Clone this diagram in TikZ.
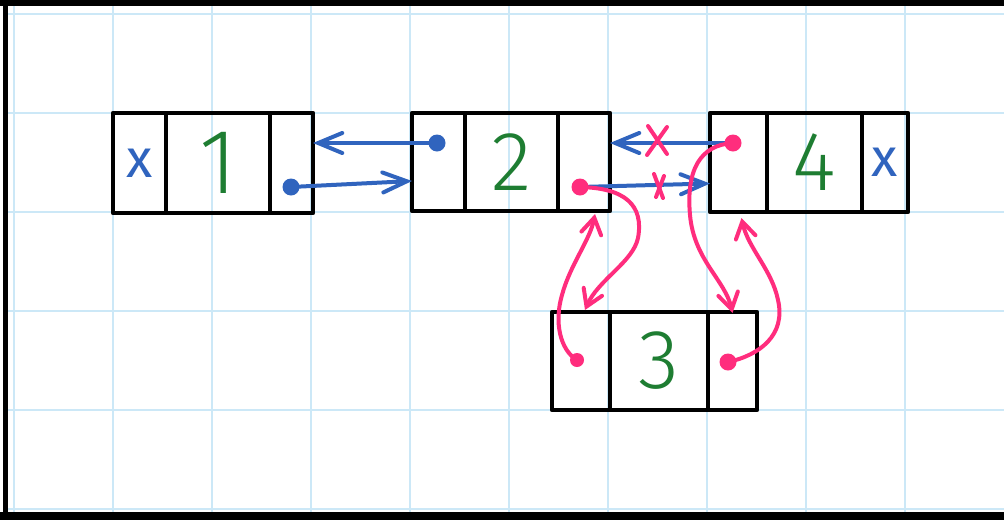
\documentclass[tikz,border=0pt]{standalone}
\usepackage{fontspec}
\newfontfamily\hand{Fira Sans Light}
\newfontfamily\handr{Fira Sans}
\usetikzlibrary{arrows.meta}
\definecolor{gridblue}{RGB}{204,232,247}
\definecolor{pblue}{RGB}{48,100,190}
\definecolor{pgreen}{RGB}{30,125,50}
\definecolor{ppink}{RGB}{255,45,125}
\begin{document}
\begin{tikzpicture}[x=1pt,y=-1pt,
  gridline/.style={draw=gridblue, line width=2pt},
  cell/.style={draw=black, line width=4.5pt, inner sep=0pt, outer sep=0pt, line join=round},
  xmark/.style={text=pblue, font=\handr\fontsize{54}{54}\selectfont},
  digit/.style={text=pgreen, font=\hand\fontsize{84}{84}\selectfont},
  bdot/.style={circle, fill=pblue, inner sep=0pt, minimum size=17pt},
  pdot/.style={circle, fill=ppink, inner sep=0pt, minimum size=17pt},
  barrow/.style={draw=pblue, line width=4pt, line cap=round, line join=round,
    -{Straight Barb[length=24pt,width=20pt,line cap=round]}},
  parrow/.style={draw=ppink, line width=4pt, line cap=round, line join=round,
    -{Straight Barb[length=16pt,width=20pt,line cap=round]}},
  cross/.style={draw=ppink, line width=4pt, line cap=round}
]
\useasboundingbox (0,0) rectangle (1004,520);
\fill[white] (0,0) rectangle (1004,520);
% grid
\foreach \x in {14,113,...,905} \draw[gridline] (\x,6) -- (\x,512);
\foreach \y in {14,113,...,509} \draw[gridline] (8,\y) -- (1004,\y);
% frame
\fill[black] (0,0) rectangle (1004,6);
\fill[black] (3,0) rectangle (8,520);
\fill[black] (0,512) rectangle (1004,520);

% box 1
\node[cell, minimum width=53pt, minimum height=100pt, xmark] (b1a) at (139.5,163) {x};
\node[cell, minimum width=104pt, minimum height=100pt, digit, font=\hand\fontsize{92}{92}\selectfont] (b1b) at (218,163) {1};
\node[cell, minimum width=43pt, minimum height=100pt] (b1c) at (291.5,163) {};
% box 2
\node[cell, minimum width=53pt, minimum height=98pt] (b2a) at (438.5,162) {};
\node[cell, minimum width=93pt, minimum height=98pt, digit] (b2b) at (511.5,162) {2};
\node[cell, minimum width=52pt, minimum height=98pt] (b2c) at (584,162) {};
% box 4
\node[cell, minimum width=57pt, minimum height=99pt] (b4a) at (738.5,162.5) {};
\node[cell, minimum width=95pt, minimum height=99pt, digit] (b4b) at (814.5,162.5) {4};
\node[cell, minimum width=46pt, minimum height=99pt, xmark] (b4c) at (885,162.5) {x};
% box 3
\node[cell, minimum width=58pt, minimum height=98pt] (b3a) at (581,361) {};
\node[cell, minimum width=98pt, minimum height=98pt, digit] (b3b) at (659,361) {3};
\node[cell, minimum width=49pt, minimum height=98pt] (b3c) at (732.5,361) {};

% dot positions
\coordinate (c1) at (291,187);
\coordinate (c2a) at (437,143);
\coordinate (c2c) at (580,187);
\coordinate (c4a) at (733,143);
\coordinate (c3a) at (577,360);
\coordinate (c3c) at (728,362);

% blue arrows
\draw[barrow] (c2a) -- ([yshift=20pt]b1c.east);
\draw[barrow] (c1) -- ([yshift=-19pt]b2a.west);
\draw[barrow] (c4a) -- ([yshift=19pt]b2c.east);
\draw[barrow] (c2c) -- ([yshift=-21pt]b4a.west);

% pink crosses
\draw[cross] (648,126) -- (667,154);
\draw[cross] (667,127) -- (647,155);
\draw[cross] (654,174) -- (663,198);
\draw[cross] (664,176) -- (656,197);

% pink arrows
\draw[parrow] (c2c) .. controls (625,188) and (644,205) .. (638,238)
  .. controls (633,262) and (598,280) .. ([xshift=4pt,yshift=2pt]b3a.north);
\draw[parrow] (c3a) .. controls (560,350) and (554,322) .. (562,295)
  .. controls (570,265) and (590,240) .. ([xshift=11pt,yshift=-3pt]b2c.south);
\draw[parrow] (c4a) .. controls (700,145) and (686,170) .. (690,215)
  .. controls (694,260) and (725,280) .. ([yshift=-1pt]b3c.north);
\draw[parrow] (c3c) .. controls (760,355) and (786,335) .. (778,300)
  .. controls (772,270) and (748,248) .. ([xshift=3pt,yshift=-6pt]b4a.south);

% dots
\node[bdot] (d1) at (c1) {};
\node[bdot] (d2a) at (c2a) {};
\node[pdot] (d2c) at (c2c) {};
\node[pdot] (d4a) at (c4a) {};
\node[pdot, minimum size=14pt] (d3a) at (c3a) {};
\node[pdot] (d3c) at (c3c) {};
\end{tikzpicture}
\end{document}
